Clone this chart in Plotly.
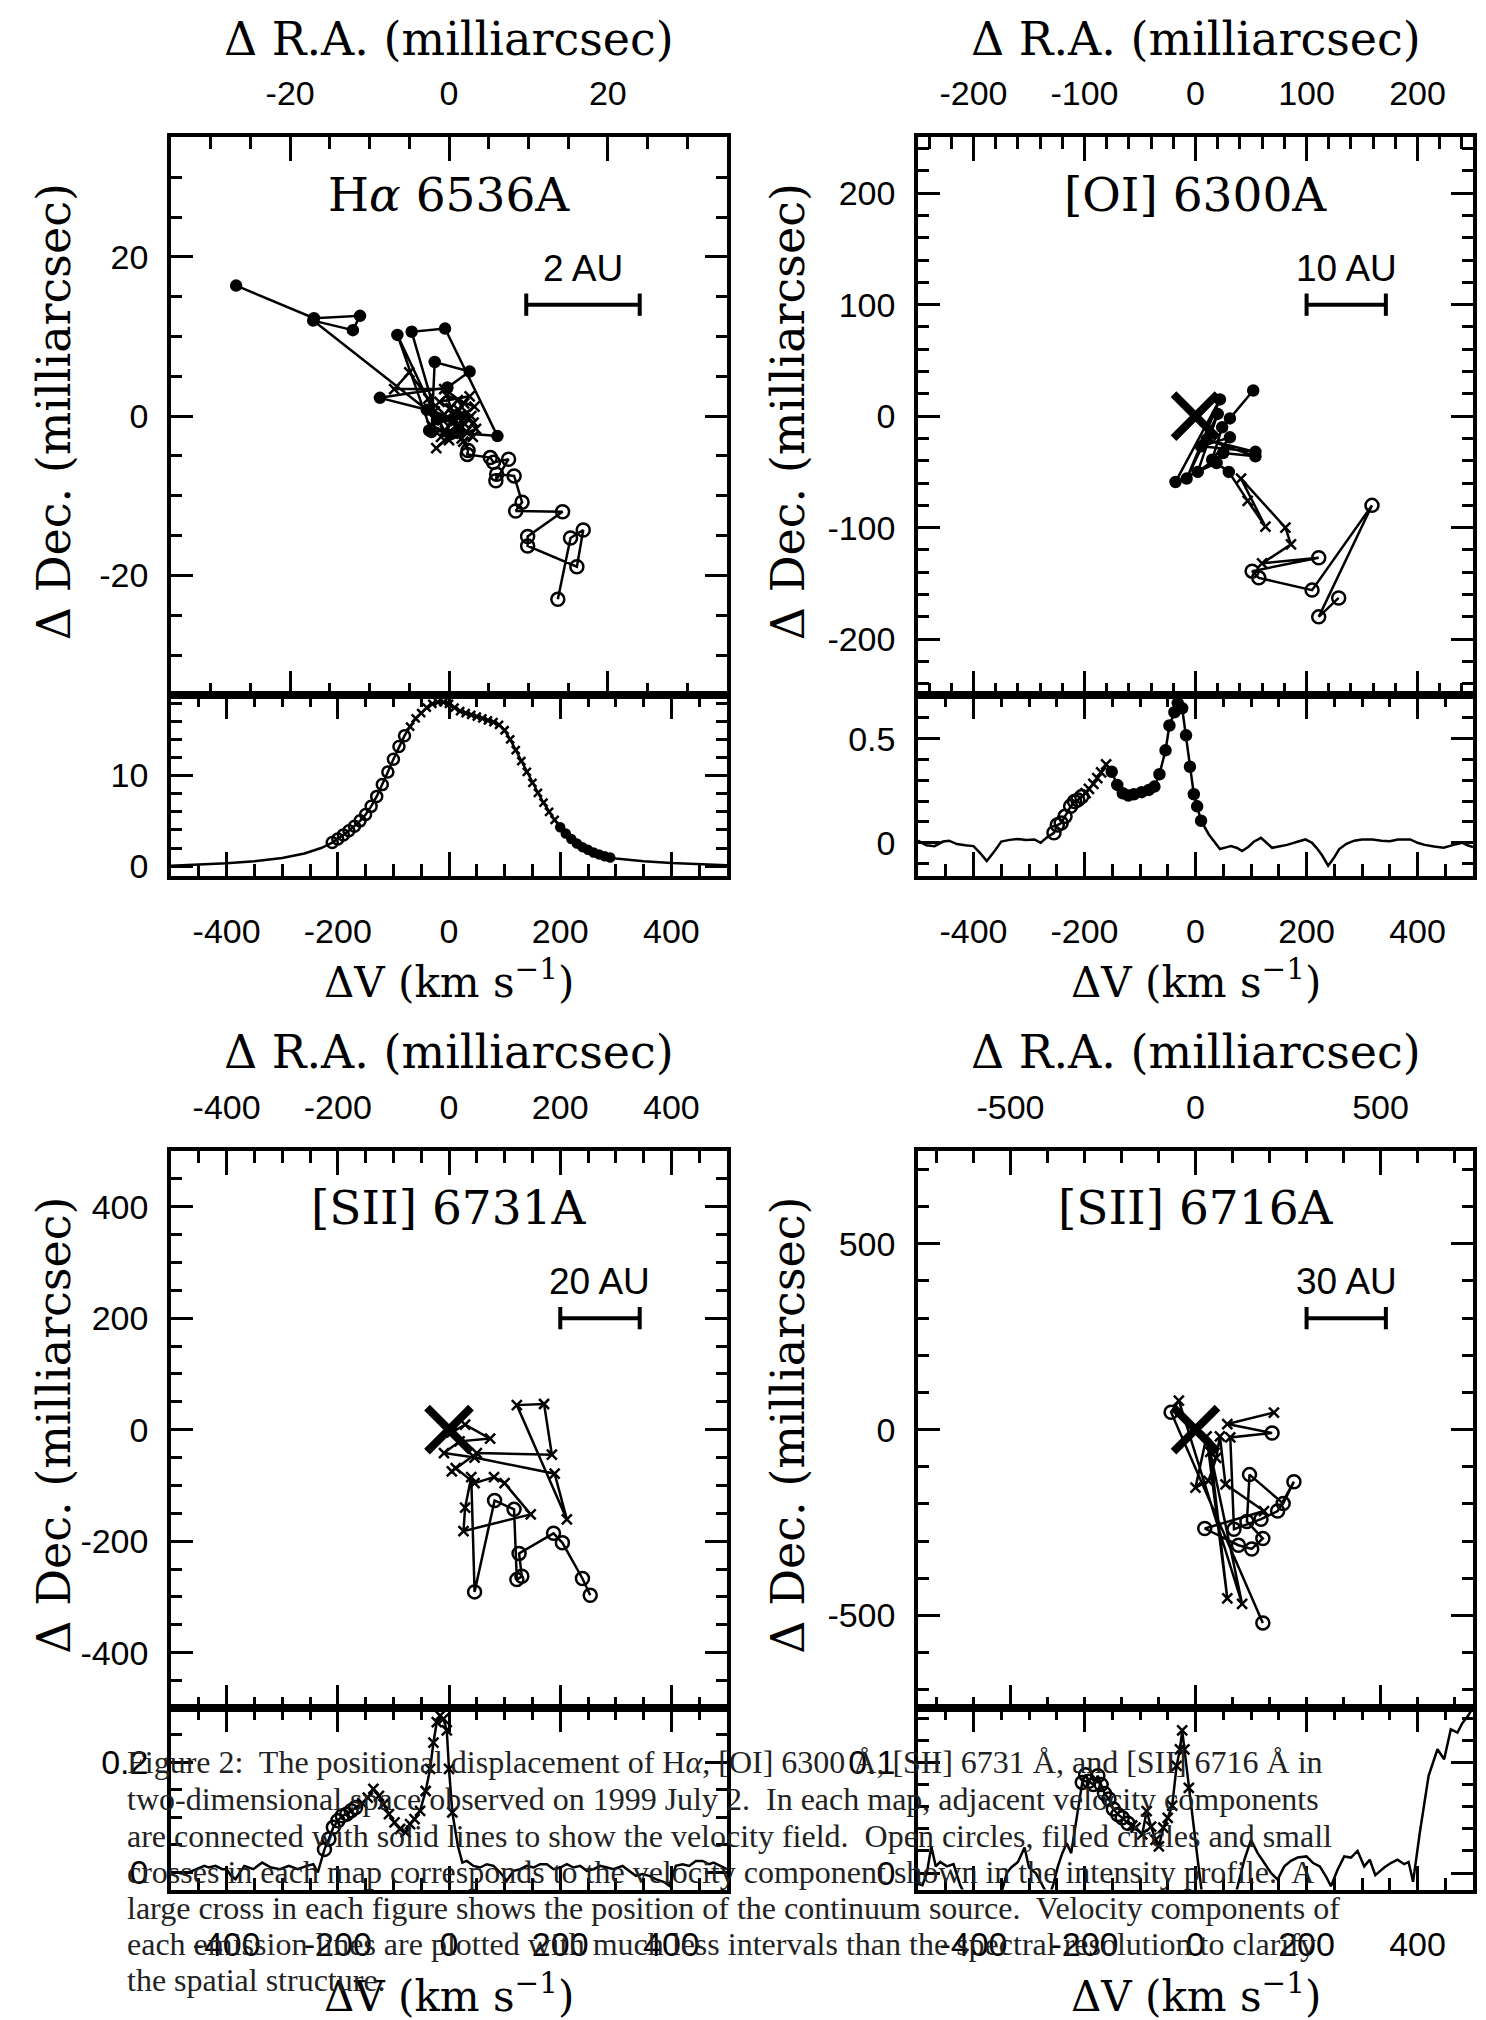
import plotly.graph_objects as go

W, H = 1486, 2020

# ---------------- Panel 1 : H alpha 6536A ----------------
P1_RA = [13.7, 15.3, 16.9, 16.1, 9.9, 9.9, 14.3, 8.4, 9.2, 8.2, 6.0, 5.9, 7.5, 5.6, 5.2, 2.3, 2.4,
         1.8, 3.0, 1.0, -1.6, 0.5, 2.0, -0.8, 1.5, 3.1, 0.2, -1.2, 2.6, 1.2, -0.5, 2.2, -1.8, 0.8, 3.2,
         -0.3, 1.6, -2.2, 0.4, 2.8, -1.0, 1.9, -0.6, -6.9, -5.0, -2.6, 0.9, 2.4, -1.4, 0.0, 3.4, 1.1,
         -2.5, 6.1, -0.5, -4.7, -1.5, -6.5, -2.2, -1.8, 2.6, -0.2, -8.7, -2.8, -17.1, -12.1, -11.2, -17.0, -26.8]
P1_DEC = [-23.0, -15.3, -14.3, -18.9, -16.3, -15.1, -12.0, -11.9, -10.8, -7.5, -7.3, -8.1, -5.4, -5.8, -5.2, -4.8, -4.3,
          -3.2, -2.6, -1.5, -4.0, -2.2, -1.0, -0.5, 0.2, -0.8, 1.0, 1.8, 2.5, 0.8, -1.8, -1.9, 0.6, -0.6, 1.2,
          2.6, -2.8, -1.2, 0.3, 0.0, -2.6, 1.6, 3.4, 3.4, 5.5, 2.2, -1.2, -0.4, -0.2, -3.0, -1.6, 2.0,
          -1.8, -2.5, 11.0, 10.6, -0.4, 10.2, -2.0, 6.8, 5.6, 3.6, 2.3, 0.8, 12.0, 10.8, 12.6, 12.3, 16.4]
P1_KIND = "o" * 17 + "x" * 35 + "f" * 17

P1_V = [-500, -450, -400, -350, -300, -260, -230,
        -210, -200, -190, -180, -170, -160, -150, -140, -130, -120, -110, -100, -90, -80,
        -70, -60, -50, -40, -30, -20, -10, 0, 10, 20, 30, 40, 50, 60, 70, 80, 90, 100, 110, 120,
        130, 140, 150, 160, 170, 180, 190,
        200, 210, 220, 230, 240, 250, 260, 270, 280, 290,
        300, 350, 400, 450, 500]
P1_I = [0.05, 0.15, 0.33, 0.55, 0.9, 1.4, 2.0,
        2.6, 3.0, 3.45, 3.9, 4.4, 5.0, 5.7, 6.6, 7.7, 9.0, 10.4, 11.8, 13.2, 14.4,
        15.4, 16.3, 16.9, 17.5, 17.9, 18.1, 18.1, 17.9, 17.5, 17.1, 16.9, 16.7, 16.5, 16.3, 16.1, 15.9, 15.6, 15.0, 14.0, 12.8,
        11.6, 10.4, 9.2, 8.1, 7.0, 6.0, 5.1,
        4.3, 3.6, 3.0, 2.5, 2.1, 1.8, 1.5, 1.3, 1.1, 0.95,
        0.85, 0.55, 0.35, 0.2, 0.1]
P1_VKIND = "-" * 7 + "o" * 14 + "x" * 27 + "f" * 10 + "-" * 5

# ---------------- Panel 2 : [OI] 6300A ----------------
P2_RA = [129, 111, 159, 105, 57, 51, 111,
         60, 86, 81, 41, 63, 47,
         30, 19, -18, 22, -8, 20, 2, 25, 54, 10, 54, 5, 31, 15, 24, 31, 52]
P2_DEC = [-163, -180, -80, -156, -145, -139, -127,
          -132, -115, -100, -56, -99, -76,
          -50, -42, -59, 15, -56, 2, -50, -33, -36, -21, -32, -27, -19, -39, -10, -2, 23]
P2_KIND = "o" * 7 + "x" * 6 + "f" * 17

P2_V = [-500, -485, -470, -455, -444, -430, -415, -400, -388, -376, -362, -350, -335, -320, -305, -290, -279, -268,
        -255, -249, -242, -235, -225, -218, -212, -205,
        -198, -192, -184, -177, -170, -161,
        -151, -141, -131, -121, -111, -97, -84, -74, -65, -54, -47, -38, -32, -24, -17, -10, -3, 3, 10,
        24, 35, 44, 55, 64, 75, 84, 95, 105, 118, 128, 138, 150, 165, 185, 198, 210, 218, 228, 239,
        250, 259, 272, 286, 300, 319, 335, 350, 365, 387, 400, 413, 430, 447, 465, 481, 490, 500]
P2_I = [0.010, -0.012, -0.016, 0.006, 0.010, -0.006, -0.012, -0.016, -0.050, -0.088, -0.040, 0.006, 0.014, 0.018,
        0.014, 0.016, 0.000, 0.025,
        0.048, 0.085, 0.095, 0.127, 0.175, 0.198, 0.206, 0.222,
        0.238, 0.259, 0.283, 0.310, 0.338, 0.376,
        0.341, 0.278, 0.238, 0.227, 0.233, 0.243, 0.254, 0.270, 0.329, 0.444, 0.563, 0.627, 0.671, 0.646,
        0.516, 0.365, 0.233, 0.175, 0.106,
        0.040, 0.000, -0.030, -0.022, -0.016, -0.025, -0.040, -0.020, 0.005, 0.024, 0.000, -0.024, -0.018,
        -0.010, 0.006, 0.016, 0.000, -0.024, -0.060, -0.110,
        -0.070, -0.030, -0.005, 0.010, 0.016, 0.016, 0.010, 0.008, 0.016, 0.016, 0.000, -0.010, -0.018, -0.024,
        -0.010, 0.000, -0.012, -0.020]
P2_VKIND = "-" * 18 + "o" * 8 + "x" * 6 + "f" * 19 + "-" * 38

# ---------------- Panel 3 : [SII] 6731A ----------------
P3_RA = [254, 240, 204, 188, 126, 131, 122, 117, 82, 46,
         40, 29, 26, 147, 100, 81, 46, 12, 5, 50, 185, 171, 122, 212, 190, 46, -9, 19, 74, 29, 5]
P3_DEC = [-297, -267, -203, -186, -222, -263, -269, -143, -127, -291,
          -85, -140, -182, -152, -96, -85, -96, -69, -75, -42, -45, 46, 44, -161, -79, -50, -42, -21, -16, 9, -5]
P3_KIND = "o" * 10 + "x" * 21

P3_V = [-500, -488, -476, -456, -440, -432, -420, -408, -400, -392, -384, -376, -368, -352, -336, -320, -304,
        -288, -272, -256, -244, -236,
        -224, -216, -208, -200, -192, -184, -176, -168,
        -156, -146, -136, -126, -118, -108, -98, -88, -78, -70, -62, -52, -42, -34, -28, -22, -16, -10, -4, 0, 6,
        16, 24, 32, 44, 56, 68, 80, 92, 104, 116, 128, 140, 152, 164, 176, 188, 200, 212, 224, 236, 248, 260,
        272, 284, 296, 312, 324, 336, 348, 360, 372, 380, 388, 396, 408, 420, 432, 444, 456, 468, 476, 488, 500]
P3_I = [0.000, 0.000, -0.003, 0.006, 0.012, 0.009, 0.012, 0.006, 0.006, -0.006, -0.012, 0.000, 0.012, 0.006,
        0.018, 0.009, 0.006, 0.012, 0.006, 0.012, 0.015, 0.000,
        0.042, 0.061, 0.082, 0.094, 0.103, 0.106, 0.112, 0.118,
        0.126, 0.136, 0.152, 0.139, 0.124, 0.106, 0.091, 0.079, 0.073, 0.088, 0.097, 0.112, 0.148, 0.188, 0.236,
        0.273, 0.285, 0.279, 0.258, 0.188, 0.109,
        0.048, 0.018, 0.021, 0.012, 0.009, 0.015, 0.012, 0.000, -0.015, 0.003, 0.006, 0.012, 0.009, 0.015, 0.015,
        0.006, 0.009, 0.015, 0.009, 0.012, 0.003, 0.006, 0.012, 0.009, 0.006, 0.012, 0.003, -0.006, -0.003,
        -0.006, -0.012, -0.015, -0.018, -0.024, 0.012, 0.015, 0.012, 0.021, 0.021, 0.015, 0.018, 0.012, 0.006]
P3_VKIND = "-" * 22 + "o" * 8 + "x" * 21 + "-" * 43

# ---------------- Panel 4 : [SII] 6716A ----------------
P4_RA = [182, -66, -45, 126, 40, 86, 30, 0, 35, 56, 66, 81, 185, 25, 116, 152, 182, 139, 146, 237,
         266, 222, 177, 104, 94, 207, 86, 212]
P4_DEC = [-520, 47, 78, -469, -60, -454, -18, -156, -138, -76, -18, -147, -219, -266, -311, -321, -293, -247,
          -121, -199, -140, -219, -241, -268, -21, -9, 15, 46]
P4_KIND = "oo" + "x" * 11 + "o" * 11 + "x" + "o" + "xx"

P4_V = [-500, -492, -484, -476, -468, -460, -448, -436, -424, -416, -400, -384, -360, -348, -340, -332, -320,
        -308, -300, -288, -276, -264, -256, -248, -240, -232, -224, -212,
        -204, -198, -192, -184, -176, -170, -164, -156, -148, -140, -132, -122,
        -114, -108, -96, -88, -80, -72, -66, -58, -50, -42, -34, -28, -24, -20, -12,
        -4, 4, 12, 24, 50, 70, 76, 88, 100, 112, 124, 136, 148, 160, 172, 184, 200, 212, 224, 236, 244, 256,
        268, 280, 292, 304, 314, 324, 340, 352, 364, 376, 384, 392, 404, 420, 436, 448, 460, 472, 480, 492, 500]
P4_I = [-0.010, -0.011, 0.000, 0.024, 0.006, 0.010, 0.006, 0.008, -0.011, -0.020, -0.035, -0.030, -0.025,
        -0.015, 0.000, 0.005, 0.010, 0.023, 0.005, 0.000, -0.012, -0.022, -0.010, 0.006, 0.018, 0.027, 0.018, 0.058,
        0.082, 0.089, 0.083, 0.080, 0.088, 0.080, 0.072, 0.067, 0.058, 0.053, 0.050, 0.045,
        0.043, 0.041, 0.035, 0.056, 0.042, 0.030, 0.024, 0.041, 0.050, 0.061, 0.097, 0.112, 0.129, 0.112, 0.077,
        0.042, 0.012, -0.020, -0.040, -0.050, -0.025, -0.012, 0.012, 0.030, 0.018, 0.009, 0.000, -0.006, 0.006,
        0.011, 0.014, 0.015, 0.009, 0.006, -0.004, -0.012, 0.003, 0.015, 0.014, 0.020, 0.006, 0.012, -0.002,
        0.005, 0.009, 0.012, 0.008, 0.010, -0.008, 0.036, 0.088, 0.112, 0.103, 0.130, 0.127, 0.135, 0.143, 0.150]
P4_VKIND = "-" * 28 + "o" * 12 + "x" * 15 + "-" * 43

# ---------------- axis ticks / labels ----------------
V_TICKS = [-400, -200, 0, 200, 400]
MAS_PER_AU = 1000.0 / 140.0   # assumed distance 140 pc

CAPTION = [
    "Figure 2:  The positional displacement of H<i>α</i>, [OI] 6300 Å, [SII] 6731 Å, and [SII] 6716 Å in",
    "two-dimensional space observed on 1999 July 2.  In each map, adjacent velocity components",
    "are connected with solid lines to show the velocity field.  Open circles, filled circles and small",
    "crosses in each map corresponds to the velocity component shown in the intensity profile.  A",
    "large cross in each figure shows the position of the continuum source.  Velocity components of",
    "each emission lines are plotted with much less intervals than the spectral resolution to clarify",
    "the spatial structure.",
]

PANELS = [
    dict(label="H<i>α</i> 6536A", ra=P1_RA, dec=P1_DEC, kind=P1_KIND, v=P1_V, I=P1_I, vkind=P1_VKIND,
         R=35, ticks=[-20, 0, 20], minor=5, prange=[-1.1, 18.9], pticks=[0, 10], pminor=2,
         au=2, cont=False, col=0, row=0, psmall=True),
    dict(label="[OI] 6300A", ra=P2_RA, dec=P2_DEC, kind=P2_KIND, v=P2_V, I=P2_I, vkind=P2_VKIND,
         R=250, ticks=[-200, -100, 0, 100, 200], minor=20, prange=[-0.16, 0.71], pticks=[0, 0.5], pminor=0.1,
         au=10, cont=True, col=1, row=0, psmall=False),
    dict(label="[SII] 6731A", ra=P3_RA, dec=P3_DEC, kind=P3_KIND, v=P3_V, I=P3_I, vkind=P3_VKIND,
         R=500, ticks=[-400, -200, 0, 200, 400], minor=50, prange=[-0.031, 0.298], pticks=[0, 0.2], pminor=0.05,
         au=20, cont=True, col=0, row=1, psmall=False),
    dict(label="[SII] 6716A", ra=P4_RA, dec=P4_DEC, kind=P4_KIND, v=P4_V, I=P4_I, vkind=P4_VKIND,
         R=750, ticks=[-500, 0, 500], minor=100, prange=[-0.015, 0.149], pticks=[0, 0.1], pminor=0.02,
         au=30, cont=True, col=1, row=1, psmall=False),
]

# ---------------- geometry (pixels) ----------------
COLS = {0: (163, 719), 1: (910, 1465)}
ROWS = {0: (130, 690, 872), 1: (1148, 1708, 1890)}
DEC_TITLE_X = {0: 46, 1: 780}

TICKFONT = dict(family="Liberation Sans, Arial, sans-serif", size=34, color="black")
SERIF = "DejaVu Serif, serif"
LW = 2.5


def fx(px):
    return px / W


def fy(py):
    return 1 - py / H


def aname(kind, n):
    return kind + "axis" + ("" if n == 1 else str(n))


def tref(kind, n):
    return kind + ("" if n == 1 else str(n))


def fmt(t):
    return f"{t:g}"


fig = go.Figure()
layout = dict(width=W, height=H, margin=dict(l=0, r=0, t=0, b=0),
              paper_bgcolor="white", plot_bgcolor="white", showlegend=False)
annotations = []

MARKS = {"o": dict(symbol="circle-open", size=13),
         "f": dict(symbol="circle", size=10),
         "x": dict(symbol="x-thin", size=10)}


def add_points(xs, ys, kinds, xr, yr, small=False):
    for k, m in MARKS.items():
        px = [a for a, kk in zip(xs, kinds) if kk == k]
        py = [b for b, kk in zip(ys, kinds) if kk == k]
        if not px:
            continue
        size = m["size"] - (2 if small else 0)
        fig.add_trace(go.Scatter(
            x=px, y=py, mode="markers", xaxis=xr, yaxis=yr, hoverinfo="skip",
            marker=dict(symbol=m["symbol"], size=size, color="black",
                        line=dict(color="black", width=LW))))


def base_axis(**kw):
    d = dict(showgrid=False, zeroline=False, showline=True, linewidth=3.5, linecolor="black",
             mirror="ticks", ticks="inside", ticklen=24, tickwidth=3, tickcolor="black",
             tickfont=TICKFONT, tickmode="array")
    d.update(kw)
    return d


def text_ann(x, y, text, size, family=SERIF, angle=0, xanchor="center"):
    return dict(x=x, y=y, xref="paper", yref="paper", text=text, showarrow=False,
                xanchor=xanchor, yanchor="middle", textangle=angle,
                font=dict(family=family, size=size, color="black"))


for i, P in enumerate(PANELS):
    xl, xr = COLS[P["col"]]
    yt, ym, yb = ROWS[P["row"]]
    nm, npf = 2 * i + 1, 2 * i + 2
    R = P["R"]

    # ---- map axes ----
    layout[aname("x", nm)] = base_axis(
        domain=[fx(xl), fx(xr)], anchor=tref("y", nm), range=[-R, R], side="top",
        tickvals=P["ticks"], ticktext=[fmt(t) for t in P["ticks"]], ticklabelstandoff=15,
        minor=dict(dtick=P["minor"], tick0=0, ticks="inside", ticklen=12, tickwidth=3, tickcolor="black"))
    layout[aname("y", nm)] = base_axis(
        domain=[fy(ym), fy(yt)], anchor=tref("x", nm), range=[-R, R], side="left",
        tickvals=P["ticks"], ticktext=[fmt(t) for t in P["ticks"]], ticklabelstandoff=12,
        ticklen=22,
        minor=dict(dtick=P["minor"], tick0=0, ticks="inside", ticklen=11, tickwidth=3, tickcolor="black"))

    # ---- profile axes ----
    layout[aname("x", npf)] = base_axis(
        domain=[fx(xl), fx(xr)], anchor=tref("y", npf), range=[-500, 500], side="bottom",
        tickvals=V_TICKS, ticktext=[fmt(t) for t in V_TICKS], ticklabelstandoff=22,
        minor=dict(dtick=50, tick0=0, ticks="inside", ticklen=12, tickwidth=3, tickcolor="black"))
    layout[aname("y", npf)] = base_axis(
        domain=[fy(yb), fy(ym)], anchor=tref("x", npf), range=P["prange"], side="left",
        tickvals=P["pticks"], ticktext=[fmt(t) for t in P["pticks"]], ticklabelstandoff=12,
        ticklen=22,
        minor=dict(dtick=P["pminor"], tick0=0, ticks="inside", ticklen=11, tickwidth=3, tickcolor="black"))

    mx, my = tref("x", nm), tref("y", nm)
    px_, py_ = tref("x", npf), tref("y", npf)

    # map: connecting line + markers
    fig.add_trace(go.Scatter(x=P["ra"], y=P["dec"], mode="lines", xaxis=mx, yaxis=my,
                             line=dict(color="black", width=LW), hoverinfo="skip"))
    add_points(P["ra"], P["dec"], P["kind"], mx, my)

    # continuum source (large cross)
    if P["cont"]:
        fig.add_trace(go.Scatter(x=[0], y=[0], mode="markers", xaxis=mx, yaxis=my, hoverinfo="skip",
                                 marker=dict(symbol="x-thin", size=44, color="black",
                                             line=dict(color="black", width=8))))

    # scale bar
    bar_len = P["au"] * MAS_PER_AU
    x1 = 0.686 * R
    x0 = x1 - bar_len
    yb_ = 0.40 * R
    c = 0.04 * R
    fig.add_trace(go.Scatter(x=[x0, x1, None, x0, x0, None, x1, x1],
                             y=[yb_, yb_, None, yb_ - c, yb_ + c, None, yb_ - c, yb_ + c],
                             mode="lines", xaxis=mx, yaxis=my, hoverinfo="skip",
                             line=dict(color="black", width=4)))
    annotations.append(dict(x=(x0 + x1) / 2, y=0.53 * R, xref=mx, yref=my, text=f"{P['au']} AU",
                            showarrow=False, xanchor="center", yanchor="middle",
                            font=dict(family="Liberation Sans, Arial, sans-serif", size=37, color="black")))

    # profile
    fig.add_trace(go.Scatter(x=P["v"], y=P["I"], mode="lines", xaxis=px_, yaxis=py_,
                             line=dict(color="black", width=LW), hoverinfo="skip"))
    add_points(P["v"], P["I"], P["vkind"], px_, py_, small=P["psmall"])

    # titles
    cx = (xl + xr) / 2
    annotations.append(text_ann(fx(cx), fy(yt + 57), P["label"], 47))
    annotations.append(text_ann(fx(cx), fy(yt - 99), "Δ R.A. (milliarcsec)", 46))
    annotations.append(text_ann(fx(cx), fy(yb + 104), "ΔV (km s<sup>−1</sup>)", 42))
    annotations.append(text_ann(fx(DEC_TITLE_X[P["col"]]), fy((yt + ym) / 2 - 4), "Δ Dec. (milliarcsec)", 46,
                                angle=-90))

# caption
CAP_Y = [1762, 1799, 1836, 1872, 1909, 1945, 1981]
for line, yy in zip(CAPTION, CAP_Y):
    annotations.append(text_ann(fx(117), fy(yy), line, 32,
                                family="Liberation Serif, Times New Roman, serif", xanchor="left"))
    annotations[-1]["font"]["color"] = "#222222"

layout["annotations"] = annotations
fig.update_layout(**layout)
fig.update_traces(showlegend=False)
fig.write_html("out.html")
